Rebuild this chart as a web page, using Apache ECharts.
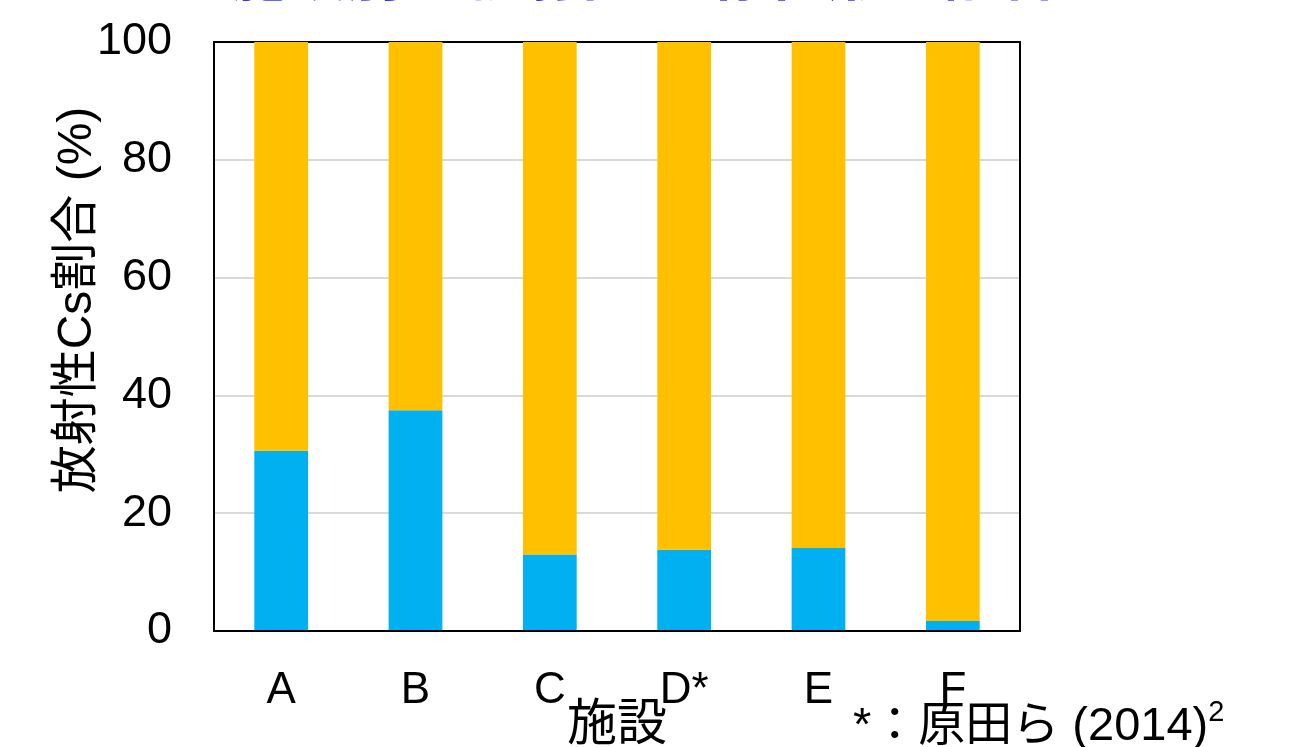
<!DOCTYPE html>
<html>
<head>
<meta charset="utf-8">
<script src="https://cdn.jsdelivr.net/npm/echarts@6/dist/echarts.min.js"></script>
<style>
  html, body { margin: 0; padding: 0; background: #fff; }
  #chart { width: 1291px; height: 747px; }
</style>
</head>
<body>
<div id="chart"></div>
<script>
// Facilities and the two stacked fractions (%) of radiocesium
const categories = ['A', 'B', 'C', 'D*', 'E', 'F'];
const lowerShare = [30.6, 37.5, 13.0, 13.8, 14.1, 1.7];
const upperShare = [69.4, 62.5, 87.0, 86.2, 85.9, 98.3];
const yTicks = [0, 20, 40, 60, 80, 100];

const latin = '"Liberation Sans", Arial, "Noto Sans CJK JP", sans-serif';
const cjk = '"Liberation Sans", "Noto Sans CJK JP", sans-serif';

const chart = echarts.init(document.getElementById('chart'), null, { renderer: 'canvas' });

const frameLine = { show: true, lineStyle: { color: '#000', width: 2 } };

chart.setOption({
  animation: false,
  backgroundColor: '#ffffff',
  grid: {
    left: 214, right: 271, top: 42, bottom: 116,
    show: true, borderColor: '#000000', borderWidth: 2
  },
  xAxis: [
    {
      type: 'category',
      data: categories,
      axisLine: frameLine,
      axisTick: { show: false },
      axisLabel: { color: '#000', fontFamily: latin, fontSize: 44, margin: 38 },
      z: 5
    },
    {
      // top edge of the plot frame
      type: 'category', position: 'top',
      data: categories,
      axisLine: frameLine,
      axisTick: { show: false },
      axisLabel: { show: false },
      z: 5
    }
  ],
  yAxis: [
    {
      type: 'value',
      min: yTicks[0], max: yTicks[yTicks.length - 1], interval: 20,
      axisLine: frameLine,
      axisTick: { show: false },
      axisLabel: { color: '#000', fontFamily: latin, fontSize: 45, margin: 42 },
      splitLine: { show: true, showMinLine: false, showMaxLine: false, lineStyle: { color: '#d9d9d9', width: 2 } }
    },
    {
      // right edge of the plot frame
      type: 'value', position: 'right',
      min: yTicks[0], max: yTicks[yTicks.length - 1], interval: 20,
      axisLine: frameLine,
      axisTick: { show: false },
      axisLabel: { show: false },
      splitLine: { show: false }
    }
  ],
  series: [
    {
      name: 'lower', type: 'bar', stack: 'total', barWidth: '40%',
      data: lowerShare,
      itemStyle: { color: '#00B0F0' }
    },
    {
      name: 'upper', type: 'bar', stack: 'total', barWidth: '40%',
      data: upperShare,
      itemStyle: { color: '#FFC000' }
    }
  ],
  graphic: [
    {
      // heading, mostly above the top edge
      type: 'text', left: 230, top: -50,
      style: { text: '施設別の放射性Cs存在形態割合', fill: '#3333ff', font: 'bold 58px ' + cjk }
    },
    {
      type: 'text', x: 78, y: 300, rotation: Math.PI / 2,
      style: { text: '放射性Cs割合 (%)', fill: '#000', font: '48px ' + cjk, align: 'center', verticalAlign: 'middle' }
    },
    {
      type: 'text', left: 567, top: 701,
      style: { text: '施設', fill: '#000', font: '50px ' + cjk }
    },
    {
      type: 'text', left: 853, top: 698,
      style: {
        text: '{a|*：原田ら (2014)}{s|2}',
        rich: {
          a: { fill: '#000', font: '47px ' + cjk, verticalAlign: 'bottom' },
          s: { fill: '#000', font: '29px ' + latin, verticalAlign: 'top', padding: [0, 0, 24, 0] }
        }
      }
    }
  ]
});
</script>
</body>
</html>
